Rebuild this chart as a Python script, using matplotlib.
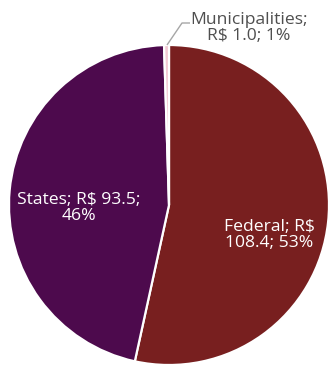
import matplotlib
matplotlib.use("Agg")
import matplotlib.pyplot as plt

# Spending by level of government (R$ billions)
categories = ["Federal", "States", "Municipalities"]
values = [108.4, 93.5, 1.0]
shares = [53, 46, 1]
colors = ["#781F1F", "#4D0A4D", "#F3C9D3"]

W, H = 328, 368
fig = plt.figure(figsize=(W / 100, H / 100), dpi=100)
ax = fig.add_axes([0, 0, 1, 1])
ax.set_xlim(0, W)
ax.set_ylim(0, H)
ax.set_aspect("equal")
ax.axis("off")

cx, cy, r = 169, H - 205, 160
wedges, _ = ax.pie(values, colors=colors, startangle=90, counterclock=False,
                   center=(cx, cy), radius=r,
                   wedgeprops=dict(edgecolor="white", linewidth=1.6))
ax.set_xlim(0, W)
ax.set_ylim(0, H)

font = ["Open Sans", "DejaVu Sans"]
fs = 12.6
ls = 0.92

def label(i, wrap_after_rs=False):
    if wrap_after_rs:
        return f"{categories[i]}; R$\n{values[i]:.1f}; {shares[i]}%"
    return f"{categories[i]}; R$ {values[i]:.1f};\n{shares[i]}%"

ax.text(269, H - 235, label(0, wrap_after_rs=True), color="white",
        ha="center", va="center", fontsize=fs, family=font, linespacing=ls)
ax.text(79, H - 208, label(1), color="white",
        ha="center", va="center", fontsize=fs, family=font, linespacing=ls)
ax.text(249, H - 28, f"{categories[2]};\nR$ {values[2]:.1f}; {shares[2]}%",
        color="#4F4F4F", ha="center", va="center", fontsize=fs, family=font,
        linespacing=ls)

# leader line for the small slice
ax.plot([190, 182, 167], [H - 23, H - 23, H - 45], color="#A6A6A6", lw=1.0,
        solid_capstyle="butt")

fig.savefig("out.png", dpi=100)
